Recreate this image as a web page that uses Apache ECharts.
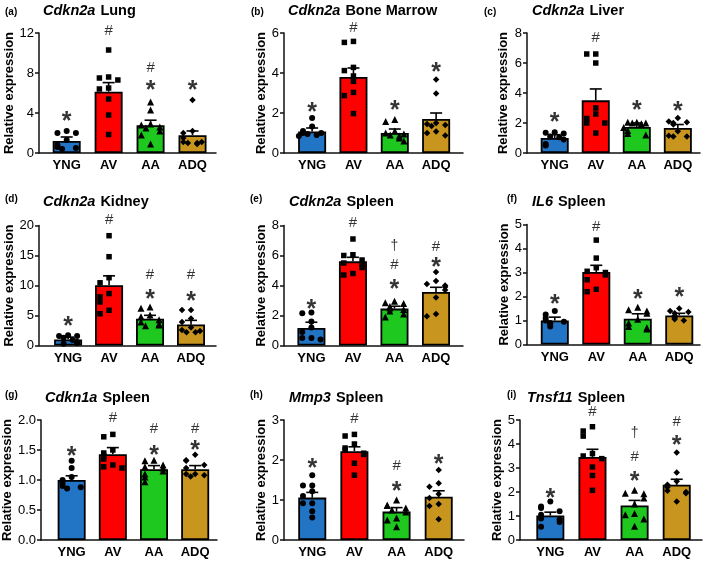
<!DOCTYPE html>
<html><head><meta charset="utf-8">
<script src="https://cdn.jsdelivr.net/npm/echarts@6/dist/echarts.min.js"></script>
<style>html,body{margin:0;padding:0;background:#fff}#c{width:709px;height:563px}</style>
</head><body><div id="c"></div>
<script>
// ---------- DATA ----------
const groups = ['YNG', 'AV', 'AA', 'ADQ'];
const panelTags = ['(a)', '(b)', '(c)', '(d)', '(e)', '(f)', '(g)', '(h)', '(i)'];
const genes = ['Cdkn2a', 'Cdkn2a', 'Cdkn2a', 'Cdkn2a', 'Cdkn2a', 'IL6', 'Cdkn1a', 'Mmp3', 'Tnsf11'];
const tissues = ['Lung', 'Bone Marrow', 'Liver', 'Kidney', 'Spleen', 'Spleen', 'Spleen', 'Spleen', 'Spleen'];
const yMaxes = [12, 6, 8, 20, 8, 5, 2, 3, 5];
const ySteps = [4, 2, 2, 5, 2, 1, 0.5, 1, 1];

const meanA = [1.2, 6.13, 2.78, 1.78];   const semA = [0.4, 0.91, 0.5, 0.42];
const ptsA = [[2.0, 2.2, 2.0, 1.3, 0.8, 0.6, 0.5, 0.4],
              [10.3, 7.5, 7.3, 7.6, 6.5, 6.4, 5.4, 3.8, 1.85],
              [5.1, 4.3, 2.9, 2.8, 2.6, 2.2, 1.8, 0.9, 2.5],
              [5.3, 2.2, 2.0, 1.5, 1.1, 1.1, 1.0, 0.9, 1.0]];
const markA = [[0, 3.6, '*'], [1, 12.2, '#'], [2, 8.5, '#'], [2, 6.7, '*'], [3, 6.7, '*']];

const meanB = [1.08, 3.8, 1.0, 1.7];     const semB = [0.17, 0.45, 0.2, 0.3];
const ptsB = [[1.75, 1.33, 1.1, 1.0, 1.0, 0.95, 0.9, 0.85],
              [5.53, 5.58, 4.28, 4.12, 3.85, 3.58, 3.03, 2.87, 1.97],
              [1.67, 1.58, 1.1, 1.0, 0.95, 0.9, 0.85, 0.75, 0.6],
              [3.67, 2.97, 1.5, 1.45, 1.4, 1.35, 1.08, 1.0, 0.87]];
const markB = [[0, 2.25, '*'], [1, 6.25, '#'], [2, 2.33, '*'], [3, 4.25, '*']];

const meanC = [1.0, 3.51, 1.73, 1.67];   const semC = [0.22, 0.76, 0.27, 0.23];
const ptsC = [[1.38, 1.35, 1.3, 1.1, 1.05, 0.9, 0.6, 0.5],
              [6.6, 6.6, 6.0, 3.0, 2.3, 2.6, 2.0, 2.0, 1.33],
              [2.05, 2.05, 2.0, 2.0, 1.95, 1.7, 1.5, 1.3, 1.2],
              [2.33, 2.1, 2.05, 2.0, 1.9, 1.45, 1.15, 1.1, 1.1]];
const markC = [[0, 2.33, '*'], [1, 7.67, '#'], [2, 3.1, '*'], [3, 3.07, '*']];

const meanD = [1.0, 10.06, 4.47, 3.52];  const semD = [0.4, 1.55, 0.56, 0.67];
const ptsD = [[1.7, 1.6, 1.6, 1.3, 0.9, 0.6, 0.4, 0.3],
              [18.3, 14.8, 11.3, 10.45, 8.66, 8.1, 7.26, 5.87, 5.3],
              [6.4, 6.2, 5.1, 4.8, 4.3, 3.9, 3.6, 3.4, 3.3],
              [5.9, 5.9, 4.5, 3.9, 3.0, 2.6, 2.4, 2.2, 2.2]];
const markD = [[0, 3.9, '*'], [1, 20.9, '#'], [2, 11.8, '#'], [2, 8.4, '*'], [3, 11.8, '#'], [3, 8.1, '*']];

const meanE = [1.17, 5.61, 2.46, 3.57];  const semE = [0.38, 0.27, 0.16, 0.31];
const ptsE = [[2.2, 2.15, 1.6, 1.2, 0.9, 0.5, 0.5, 0.4],
              [7.1, 6.05, 6.0, 5.7, 5.5, 5.4, 5.2, 4.8, 4.7],
              [2.95, 2.85, 2.8, 2.6, 2.5, 2.4, 2.3, 2.1, 1.9],
              [4.9, 4.3, 4.1, 4.0, 3.9, 3.7, 3.2, 2.1, 1.95]];
const markE = [[0, 2.66, '*'], [1, 8.16, '#'], [2, 6.6, '†'], [2, 5.39, '#'], [2, 4.0, '*'], [3, 6.6, '#'], [3, 5.5, '*']];

const meanF = [1.0, 3.02, 1.07, 1.21];   const semF = [0.14, 0.28, 0.21, 0.09];
const ptsF = [[1.4, 1.25, 1.1, 1.0, 0.95, 0.9, 0.85, 0.75],
              [4.35, 3.6, 3.2, 3.05, 3.0, 2.9, 2.7, 2.3, 2.2],
              [1.55, 1.45, 1.4, 1.3, 1.05, 0.9, 0.75, 0.7, 0.65],
              [1.5, 1.4, 1.35, 1.3, 1.2, 1.15, 1.1, 1.05, 1.0]];
const markF = [[0, 1.84, '*'], [1, 4.9, '#'], [2, 2.05, '*'], [3, 2.16, '*']];

const meanG = [1.0, 1.43, 1.18, 1.18];   const semG = [0.07, 0.11, 0.06, 0.06];
const ptsG = [[1.32, 1.2, 1.05, 1.0, 0.95, 0.9, 0.88, 0.86],
              [1.76, 1.72, 1.5, 1.45, 1.4, 1.35, 1.25, 1.22, 1.2],
              [1.33, 1.32, 1.25, 1.22, 1.2, 1.15, 1.1, 1.05, 0.97],
              [1.42, 1.33, 1.32, 1.25, 1.2, 1.1, 1.1, 1.08, 1.06]];
const markG = [[0, 1.46, '*'], [1, 2.04, '#'], [2, 1.85, '#'], [2, 1.48, '*'], [3, 1.85, '#'], [3, 1.56, '*']];

const meanH = [1.06, 2.22, 0.71, 1.08];  const semH = [0.13, 0.11, 0.1, 0.15];
const ptsH = [[1.62, 1.36, 1.36, 1.22, 1.1, 0.92, 0.92, 0.72, 0.56],
              [2.64, 2.6, 2.4, 2.3, 2.25, 2.17, 2.14, 1.92, 1.62],
              [1.0, 0.87, 0.86, 0.8, 0.75, 0.7, 0.55, 0.5, 0.33],
              [1.75, 1.42, 1.33, 1.15, 1.05, 0.9, 0.85, 0.52]];
const markH = [[0, 1.89, '*'], [1, 3.04, '#'], [2, 1.86, '#'], [2, 1.31, '*'], [3, 2.0, '*']];

const meanI = [1.02, 3.46, 1.44, 2.3];   const semI = [0.14, 0.32, 0.21, 0.23];
const ptsI = [[1.6, 1.4, 1.33, 1.2, 1.05, 0.9, 0.85, 0.75, 0.55],
              [4.72, 4.54, 4.33, 3.6, 3.5, 3.39, 3.04, 2.69, 2.07],
              [2.07, 1.95, 1.93, 1.75, 1.5, 1.1, 1.05, 0.88, 0.57],
              [3.65, 2.81, 2.45, 2.3, 2.2, 2.05, 2.0, 1.95, 1.6]];
const markI = [[0, 1.93, '*'], [1, 5.32, '#'], [2, 4.44, '†'], [2, 3.46, '#'], [2, 2.63, '*'], [3, 4.93, '#'], [3, 4.12, '*']];

const allMeans = [meanA, meanB, meanC, meanD, meanE, meanF, meanG, meanH, meanI];
const allSems = [semA, semB, semC, semD, semE, semF, semG, semH, semI];
const allPts = [ptsA, ptsB, ptsC, ptsD, ptsE, ptsF, ptsG, ptsH, ptsI];
const allMarks = [markA, markB, markC, markD, markE, markF, markG, markH, markI];

// ---------- LAYOUT / STYLE ----------
const FONT = '"Liberation Sans", Arial, Helvetica, sans-serif';
const colors = ['#2274c4', '#ff0000', '#1ec81e', '#c8961e'];
const symbols = ['circle', 'rect', 'triangle', 'diamond'];
const symSizes = [6, 5.5, 7, 6.5];
const gLeft = [39, 284, 527, 39, 284, 527, 39, 284, 520];
const gRight = [216, 463, 700, 216, 463, 700, 217, 464, 702];
const gTop = [33, 33, 33, 225.5, 225.5, 224.5, 420, 420, 420];
const gH = 120;
const xMins = [-0.66, -0.68, -0.675, -0.71, -0.66, -0.67, -0.745, -0.67, -0.72];
const xMaxs = [3.56, 3.65, 3.54, 3.61, 3.65, 3.5, 3.53, 3.6, 3.6];
const nameGaps = [22, 15, 17, 22, 15, 16, 23, 15, 13];
const titleLeft = [43, 288, 532, 43, 289, 532, 45, 289, 527];
const titleTop = [2, 2, 2, 193, 193, 193, 389, 389, 389];
const tagLeft = [5, 251, 484, 5, 250, 507, 5, 250, 507];
const tagTop = [7, 7, 7, 194, 194, 194, 390, 390, 390];
const markStyle = {
  '*': { fontSize: 25, fontWeight: 'bold', offset: [0, 5] },
  '#': { fontSize: 15, fontWeight: 'normal', offset: [0, 0] },
  '†': { fontSize: 14, fontWeight: 'normal', offset: [0, 0] }
};

function jitter(vals, tol) {
  const order = vals.map((v, i) => i).sort((a, b) => vals[b] - vals[a]);
  const pattern = [0, -0.22, 0.22, -0.11, 0.11, -0.32, 0.32, -0.05, 0.05];
  const off = new Array(vals.length).fill(0);
  const placed = [];
  order.forEach(i => {
    const k = placed.filter(j => Math.abs(vals[j] - vals[i]) < tol).length;
    off[i] = pattern[k % pattern.length];
    placed.push(i);
  });
  return off;
}

const grid = [], xAxis = [], yAxis = [], series = [], title = [];
for (let p = 0; p < 9; p++) {
  grid.push({ left: gLeft[p], top: gTop[p], width: gRight[p] - gLeft[p], height: gH });
  xAxis.push({
    type: 'value', gridIndex: p, min: xMins[p], max: xMaxs[p],
    axisLine: { show: true, onZero: false, lineStyle: { color: '#111', width: 1.5 } },
    axisTick: { show: false }, splitLine: { show: false },
    axisLabel: {
      customValues: [0, 1, 2, 3], formatter: v => groups[Math.round(v)] || '',
      color: '#000', fontFamily: FONT, fontWeight: 'bold', fontSize: 13, margin: 6
    }
  });
  const dec = p === 6 ? 1 : 0;
  yAxis.push({
    type: 'value', gridIndex: p, min: 0, max: yMaxes[p], interval: ySteps[p],
    axisLine: { show: true, onZero: false, lineStyle: { color: '#111', width: 1.5 } },
    axisTick: { show: true, length: 4, lineStyle: { color: '#111', width: 1.5 } },
    splitLine: { show: false },
    axisLabel: { color: '#000', fontFamily: FONT, fontSize: 13, margin: 5, formatter: v => v.toFixed(dec) },
    name: 'Relative expression', nameLocation: 'middle', nameGap: nameGaps[p],
    nameTextStyle: { color: '#000', fontFamily: FONT, fontWeight: 'bold', fontSize: 13 }
  });
  title.push({
    text: '{g|' + genes[p] + '} {t|' + tissues[p] + '}', left: titleLeft[p], top: titleTop[p], padding: 0,
    textStyle: { rich: {
      g: { fontFamily: FONT, fontStyle: 'italic', fontWeight: 'bold', fontSize: 14.5, color: '#000' },
      t: { fontFamily: FONT, fontWeight: 'bold', fontSize: 14.5, color: '#000' } } }
  });
  title.push({
    text: panelTags[p], left: tagLeft[p], top: tagTop[p], padding: 0,
    textStyle: { fontFamily: FONT, fontWeight: 'bold', fontSize: 10, color: '#000' }
  });

  const means = allMeans[p], sems = allSems[p];
  series.push({
    type: 'bar', xAxisIndex: p, yAxisIndex: p, barWidth: 28, z: 2,
    data: means.map((m, j) => ({ value: [j, m], itemStyle: { color: colors[j] } })),
    itemStyle: { borderColor: '#000', borderWidth: 1.8 }
  });
  allPts[p].forEach((vals, j) => {
    const off = jitter(vals, yMaxes[p] * 0.045);
    series.push({
      type: 'scatter', xAxisIndex: p, yAxisIndex: p, symbol: symbols[j], symbolSize: symSizes[j], z: 4, clip: false,
      itemStyle: { color: '#000', opacity: 1 },
      data: vals.map((v, k) => [j + off[k], v])
    });
  });
  series.push({
    type: 'custom', xAxisIndex: p, yAxisIndex: p, z: 5,
    encode: { x: 0, y: [1, 2] },
    data: means.map((m, j) => [j, m, m + sems[j]]),
    renderItem: (params, api) => {
      const a = api.coord([api.value(0), api.value(1)]);
      const b = api.coord([api.value(0), api.value(2)]);
      const st = { stroke: '#000', lineWidth: 1.6 };
      return { type: 'group', children: [
        { type: 'line', shape: { x1: a[0], y1: a[1], x2: b[0], y2: b[1] }, style: st },
        { type: 'line', shape: { x1: b[0] - 6, y1: b[1], x2: b[0] + 6, y2: b[1] }, style: st }
      ] };
    }
  });
  series.push({
    type: 'scatter', xAxisIndex: p, yAxisIndex: p, symbolSize: 0, z: 6, clip: false, silent: true,
    data: allMarks[p].map(m => ({
      value: m,
      label: Object.assign({ show: true, position: 'inside', formatter: m[2], color: '#000',
        fontFamily: FONT, align: 'center', verticalAlign: 'middle' }, markStyle[m[2]])
    }))
  });
}

const chart = echarts.init(document.getElementById('c'), null, { renderer: 'canvas' });
chart.setOption({ animation: false, backgroundColor: '#fff', title, grid, xAxis, yAxis, series });
</script></body></html>
